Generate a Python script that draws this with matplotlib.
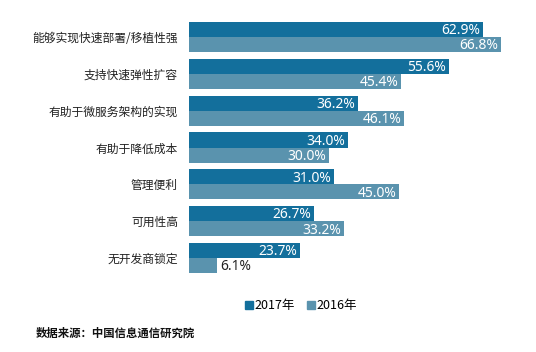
import numpy as np
import matplotlib.pyplot as plt
from matplotlib.patches import Patch

plt.rcParams['font.family'] = ['Noto Sans CJK SC', 'DejaVu Sans']

# Data
categories = ['能够实现快速部署/移植性强', '支持快速弹性扩容', '有助于微服务架构的实现',
              '有助于降低成本', '管理便利', '可用性高', '无开发商锁定']
vals_2017 = [62.9, 55.6, 36.2, 34.0, 31.0, 26.7, 23.7]
vals_2016 = [66.8, 45.4, 46.1, 30.0, 45.0, 33.2, 6.1]
series_names = ['2017年', '2016年']

c2017 = '#136f9c'
c2016 = '#5a93ae'

fig = plt.figure(figsize=(5.36, 3.52), dpi=100)
ax = fig.add_axes([189/536, 1-276.4/352, 327/536, 257.8/352])

y = np.arange(len(categories))
h = 0.41
b1 = ax.barh(y - h/2, vals_2017, height=h, color=c2017)
b2 = ax.barh(y + h/2, vals_2016, height=h, color=c2016)

ax.set_xlim(0, 70)
ax.set_ylim(len(categories) - 0.5, -0.5)
ax.set_yticks(y)
ax.set_yticklabels(categories, fontsize=8.5, color='#222222')
ax.tick_params(axis='y', length=0, pad=8)
ax.set_xticks([])
for s in ax.spines.values():
    s.set_visible(False)

def label(bars, vals):
    for rect, v in zip(bars, vals):
        yc = rect.get_y() + rect.get_height()/2
        txt = '%.1f%%' % v
        if v > 10:
            ax.annotate(txt, (v, yc), xytext=(-2, -1), textcoords='offset points',
                        ha='right', va='center', color='white', fontsize=10,
                        family='Noto Sans')
        else:
            ax.annotate(txt, (v, yc), xytext=(2, -1), textcoords='offset points',
                        ha='left', va='center', color='#222222', fontsize=10,
                        family='Noto Sans')

label(b1, vals_2017)
label(b2, vals_2016)

handles = [Patch(color=c2017), Patch(color=c2016)]
fig.legend(handles, series_names, loc='center', bbox_to_anchor=(301/536, 1-306/352),
           ncol=2, frameon=False, handlelength=0.65, handleheight=0.65,
           handletextpad=0.15, columnspacing=0.9,
           prop={'family': ['Noto Sans CJK SC'], 'size': 9})

fig.text(36/536, 1-333/352, '数据来源：中国信息通信研究院', fontsize=8.2, fontweight='bold',
         ha='left', va='center', color='#111111')

fig.savefig('out.png', dpi=100)
